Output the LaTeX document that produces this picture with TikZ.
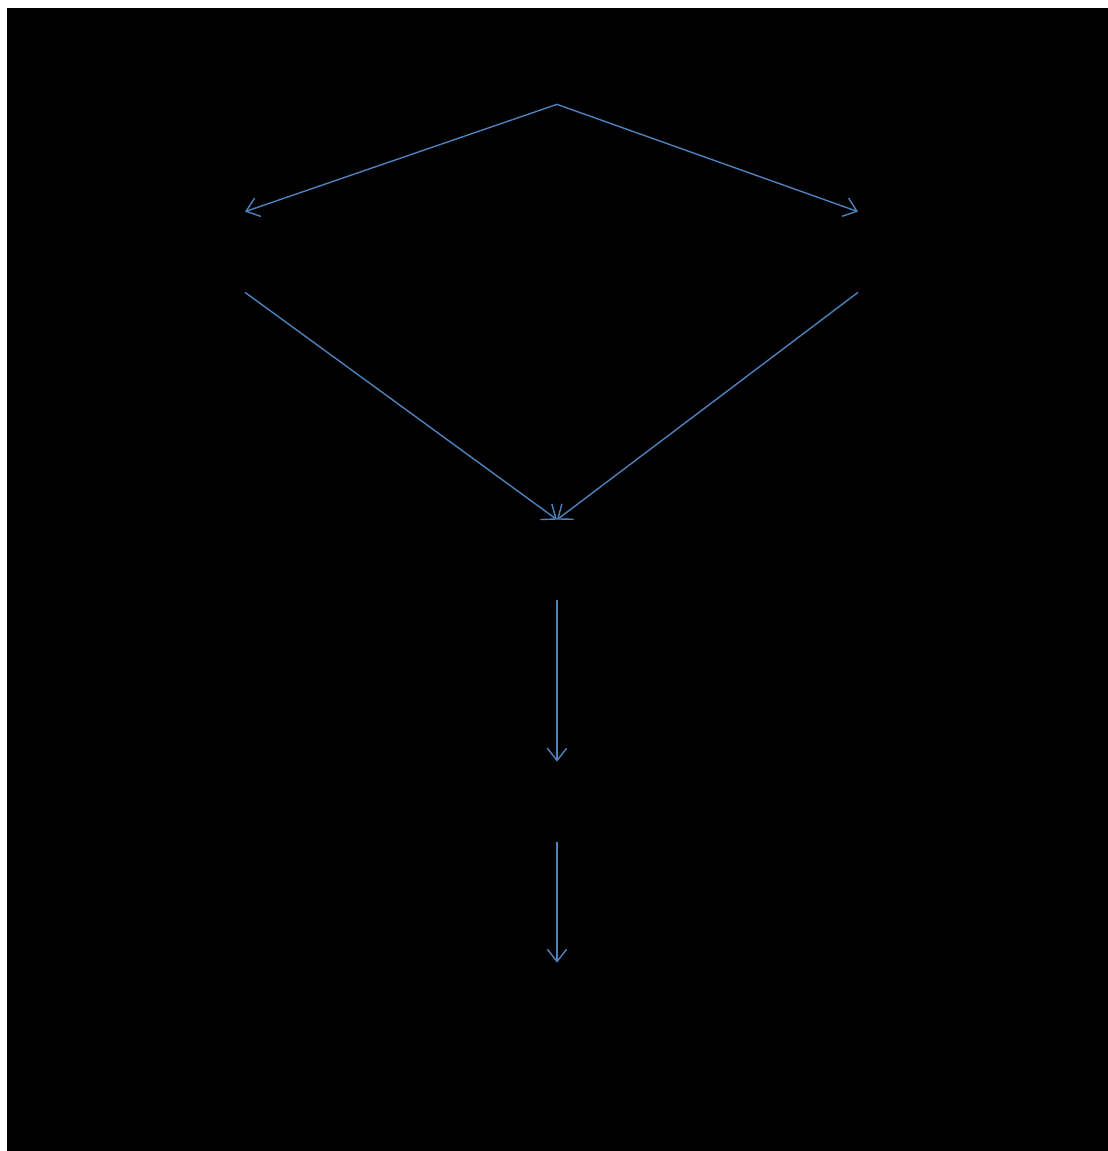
\documentclass[tikz,border=0pt]{standalone}
\usetikzlibrary{calc, arrows.meta}
\definecolor{arrowblue}{RGB}{79,129,189}

\begin{document}
\begin{tikzpicture}[scale = 1,
    box/.style = {minimum width = 2cm, minimum height = 1.6cm, inner sep = 0pt},
    flow/.style = {draw = arrowblue, line width = 0.8pt,
      -{Straight Barb[length = 7pt, width = 11pt]}}]

    %page and dark panel
    \useasboundingbox (0, 0) rectangle (22.16, -23.02);
    \fill[white] (0, 0) rectangle (22.16, -23.02);
    \fill[black] (0.13, -0.16) rectangle (22.16, -23.02);

    %empty boxes
    \node (A) at (11.14, -1.28) [box] {};
    \node (B) at (4.90, -5.04) [box] {};
    \node (C) at (17.16, -5.04) [box] {};
    \node (D) at (11.14, -11.2) [box] {};
    \node (E) at (11.14, -16.04) [box] {};
    \node (F) at (11.14, -20.06) [box] {};

    %arrows
    \draw[flow] (A.south) -- (B.north);
    \draw[flow] (A.south) -- (C.north);
    \draw[flow] (B.south) -- (D.north);
    \draw[flow] (C.south) -- (D.north);
    \draw[flow] (D.south) -- (E.north);
    \draw[flow] (E.south) -- (F.north);

\end{tikzpicture}
\end{document}
